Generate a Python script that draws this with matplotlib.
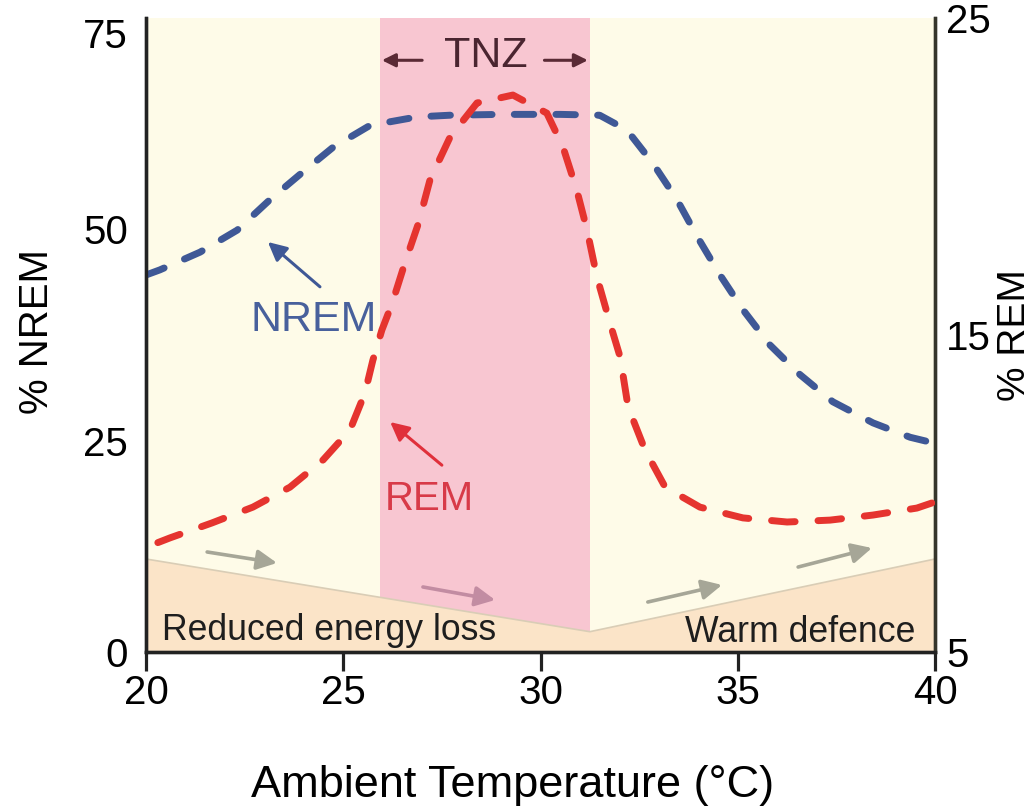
import matplotlib
matplotlib.use("Agg")
import matplotlib.pyplot as plt
from matplotlib.patches import Polygon

plt.rcParams["font.family"] = ["Liberation Sans", "DejaVu Sans"]

# NREM curve (left axis, % NREM)
nrem_x = [20.0, 20.35, 21.37, 22.31, 23.14, 23.98, 24.74, 25.68, 26.87, 27.7,
          29.0, 30.5, 31.5, 32.19, 32.85, 33.46, 33.99, 34.55, 35.13, 35.82,
          36.58, 37.41, 38.43, 39.37, 39.9]
nrem_y = [44.6, 45.2, 47.3, 49.9, 53.5, 56.8, 59.7, 62.3, 63.3, 63.5,
          63.6, 63.6, 63.5, 61.75, 57.8, 53.5, 49.0, 44.6, 40.5, 36.3,
          32.8, 29.6, 27.1, 25.4, 24.8]

# REM curve (right axis, % REM)
rem_x = [20.3, 20.61, 21.67, 22.71, 23.65, 24.49, 25.17, 25.55, 25.75, 25.98,
         26.24, 26.57, 26.9, 27.2, 27.71, 28.39, 29.3, 30.16, 30.57, 30.92,
         31.18, 31.43, 31.76, 32.02, 32.22, 32.65, 33.16, 34.04, 35.13, 36.25,
         37.34, 38.43, 39.54, 39.92]
rem_y = [8.45, 8.6, 9.07, 9.57, 10.2, 11.06, 12.0, 13.17, 14.2, 15.16,
         16.0, 17.3, 18.5, 19.9, 21.25, 22.32, 22.57, 22.0, 20.93, 19.57,
         18.31, 16.83, 15.38, 14.3, 12.73, 11.37, 10.2, 9.57, 9.23, 9.1,
         9.16, 9.32, 9.54, 9.7]

tnz_range = (25.93, 31.25)
# lower band: temperature vs % NREM level of its upper edge
band_x = [20, 31.25, 40]
band_y = [11.0, 2.4, 11.0]

x_ticks = [20, 25, 30, 35, 40]
nrem_ticks = [0, 25, 50, 75]
rem_ticks = [5, 15, 25]

fig = plt.figure(figsize=(10.31, 8.08), dpi=100)
ax = fig.add_axes([0.1416, 0.1931, 0.7653, 0.7846])
ax2 = ax.twinx()

ax.set_xlim(20, 40)
ax.set_ylim(0, 75)
ax2.set_ylim(5, 25)
ax.set_facecolor("#fefbe8")

# thermoneutral zone
ax.axvspan(tnz_range[0], tnz_range[1], color="#f8c6d1", zorder=1, lw=0)

verts = [(20, 0)] + list(zip(band_x, band_y)) + [(40, 0)]
ax.add_patch(Polygon(verts, closed=True, facecolor="#fbe4c8",
                     edgecolor="#d9cdb6", lw=1.2, zorder=2))

ax.plot(nrem_x, nrem_y, color="#3f5896", lw=5.0, dashes=(2.8, 3.2),
        dash_capstyle="round", zorder=5)
ax2.plot(rem_x, rem_y, color="#e5342f", lw=5.0, dashes=(3.4, 3.3),
         dash_capstyle="round", zorder=5)

# labels for curves
ax.text(24.26, 39.3, "NREM", color="#48609c", fontsize=31,
        ha="center", va="center")
ax.annotate("", xy=(23.09, 48.5), xytext=(24.41, 43.2),
            arrowprops=dict(arrowstyle="-|>", color="#3f5896", lw=2.2,
                            mutation_scale=28, shrinkA=0, shrinkB=0))
ax.text(27.17, 18.1, "REM", color="#d83a48", fontsize=29,
        ha="center", va="center")
ax.annotate("", xy=(26.19, 27.2), xytext=(27.5, 22.1),
            arrowprops=dict(arrowstyle="-|>", color="#e0303b", lw=2.2,
                            mutation_scale=28, shrinkA=0, shrinkB=0))

# TNZ label with arrows
ax.text(28.62, 70.5, "TNZ", color="#4a2530", fontsize=31,
        ha="center", va="center")
ax.annotate("", xy=(tnz_range[0] + 0.05, 70.0), xytext=(27.0, 70.0),
            arrowprops=dict(arrowstyle="-|>", color="#5a2a35", lw=2.2,
                            mutation_scale=20, shrinkA=0, shrinkB=0))
ax.annotate("", xy=(tnz_range[1] - 0.05, 70.0), xytext=(30.1, 70.0),
            arrowprops=dict(arrowstyle="-|>", color="#5a2a35", lw=2.2,
                            mutation_scale=20, shrinkA=0, shrinkB=0))

# small direction arrows over the band
arrow_specs = [((21.55, 11.83), (23.32, 10.53), "#a6a697"),
               ((27.02, 7.69), (28.85, 6.15), "#c28ca2"),
               ((32.72, 5.91), (34.6, 7.93), "#a6a697"),
               ((36.53, 10.05), (38.4, 12.3), "#a6a697")]
for start, end, col in arrow_specs:
    ax.annotate("", xy=end, xytext=start,
                arrowprops=dict(arrowstyle="-|>", color=col, lw=2.6,
                                mutation_scale=30, shrinkA=0, shrinkB=0),
                zorder=4)

ax.text(20.4, 1.4, "Reduced energy loss", fontsize=25.7, color="#1e1e1e",
        ha="left", va="baseline", zorder=6)
ax.text(39.49, 1.2, "Warm defence", fontsize=25.7, color="#1e1e1e",
        ha="right", va="baseline", zorder=6)

# axes styling
ax.set_xticks(x_ticks)
ax.set_yticks(nrem_ticks)
ax2.set_yticks(rem_ticks)
ax.tick_params(axis="x", direction="out", length=14, width=2.3,
               labelsize=29, pad=2, color="#222222")
ax.tick_params(axis="y", length=0, labelsize=29, pad=13)
ax2.tick_params(axis="y", length=0, labelsize=29, pad=8)
ax.get_yticklabels()[-1].set_va("top")

for a in (ax, ax2):
    a.spines["top"].set_visible(False)
    a.spines["left"].set_linewidth(2.4)
    a.spines["bottom"].set_linewidth(2.4)
    a.spines["right"].set_linewidth(2.4)
    a.spines["left"].set_color("#222222")
    a.spines["bottom"].set_color("#222222")
    a.spines["right"].set_color("#35352b")

ax.set_xlabel("Ambient Temperature (°C)", fontsize=32.5, va="center")
ax.xaxis.set_label_coords(0.464, -0.21)
ax.set_ylabel("% NREM", fontsize=29, va="center", ha="center")
ax.yaxis.set_label_coords(-0.138, 0.505)
ax2.set_ylabel("% REM", fontsize=28, va="center", ha="center")
ax2.yaxis.set_label_coords(1.101, 0.5)

fig.savefig("out.png", dpi=100)
